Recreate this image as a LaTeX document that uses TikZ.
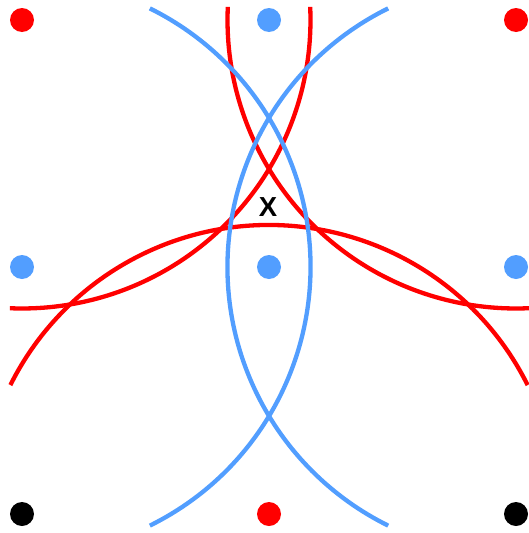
\documentclass[tikz,border=0pt]{standalone}
\usepackage{fontspec}
\setmainfont{Liberation Sans}
\definecolor{ptred}{RGB}{255,0,0}
\definecolor{ptblue}{RGB}{82,158,255}
\begin{document}
\begin{tikzpicture}[x=1pt, y=1pt,
  dot/.style={circle, fill, inner sep=0pt, minimum size=24pt},
  ring/.style={line width=4.3pt}]
  \useasboundingbox (0,0) rectangle (529,-533);
  % lattice points
  \node[dot, ptred]  (tl) at (22,-20)   {};
  \node[dot, ptblue] (tm) at (269,-20)  {};
  \node[dot, ptred]  (tr) at (516,-20)  {};
  \node[dot, ptblue] (ml) at (22,-267)  {};
  \node[dot, ptblue] (mm) at (269,-267) {};
  \node[dot, ptblue] (mr) at (516,-267) {};
  \node[dot, black]  (bl) at (22,-514)  {};
  \node[dot, ptred]  (bm) at (269,-514) {};
  \node[dot, black]  (br) at (516,-514) {};
  % red arcs
  \draw[ring, ptred] (tl.center) ++(2.6:288.5pt) arc[start angle=2.6, end angle=-92.4, radius=288.5pt];
  \draw[ring, ptred] (tr.center) ++(177.4:288.5pt) arc[start angle=177.4, end angle=272.6, radius=288.5pt];
  \draw[ring, ptred] (bm.center) ++(26.5:289pt) arc[start angle=26.5, end angle=153.5, radius=289pt];
  % blue arcs
  \draw[ring, ptblue] (ml.center) ++(-63.7:288.5pt) arc[start angle=-63.7, end angle=63.7, radius=288.5pt];
  \draw[ring, ptblue] (mr.center) ++(116.3:288.5pt) arc[start angle=116.3, end angle=243.7, radius=288.5pt];
  % label
  \node[inner sep=0pt, font=\bfseries\fontsize{27.5}{30}\selectfont] (x) at (268,-207) {X};
\end{tikzpicture}
\end{document}
